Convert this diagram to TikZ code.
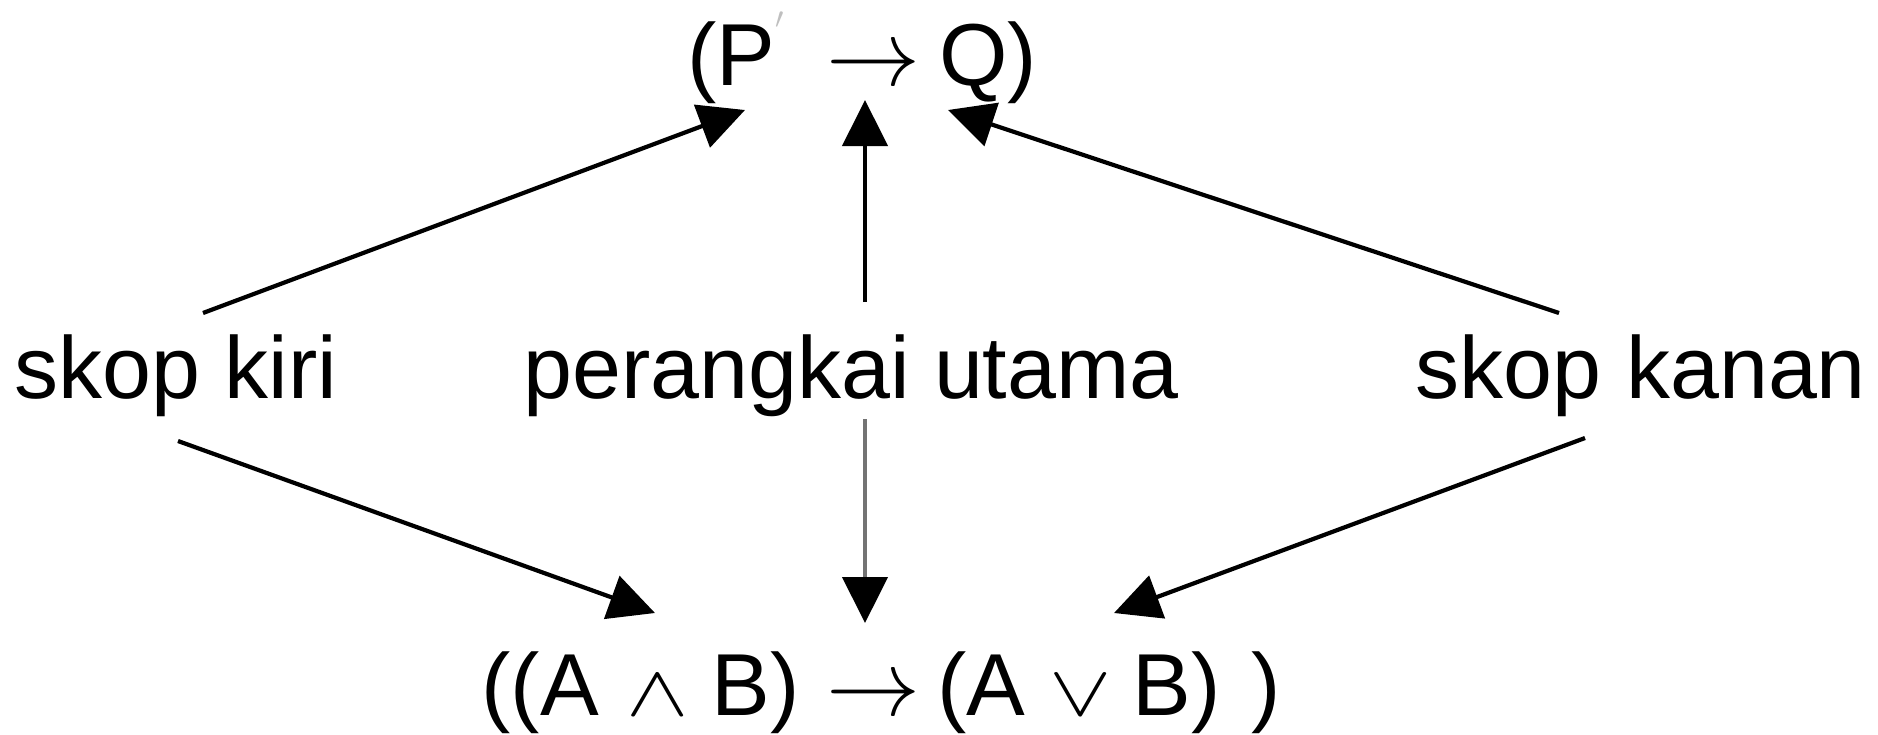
\RequirePackage{fix-cm}
\documentclass[tikz,border=0pt]{standalone}
\usepackage{graphicx}
\usepackage{fontspec}
\setmainfont{Liberation Sans}
\usetikzlibrary{arrows.meta}
\begin{document}
\begin{tikzpicture}[x=1pt,y=-1pt,
  txt/.style={inner sep=0pt,outer sep=0pt,font=\fontsize{88}{88}\selectfont},
  sym/.style={inner sep=0pt,outer sep=0pt,font=\fontsize{94}{94}\selectfont},
  opsym/.style={inner sep=0pt,outer sep=0pt,font=\fontsize{72}{72}\selectfont},
  conn/.style={line width=4.2pt,-{Triangle[length=46pt,width=45pt]}},
  conngrey/.style={line width=4.2pt,draw=black!55,-{Triangle[length=46pt,width=45pt,color=black]}}]
\useasboundingbox[fill=white] (0,0) rectangle (1878,734);
% labels
\node[txt,anchor=base] (kiri) at (176,398) {skop kiri};
\node[txt,anchor=base] (utama) at (851,398) {perangkai utama};
\node[txt,anchor=base] (kanan) at (1641,398) {skop kanan};
% top formula
\node[txt,anchor=base west] (tP) at (687.5,85) {(P};
\node[inner sep=0pt,text=black!25,font=\fontsize{30}{30}\selectfont] (tprime) at (780,20) {$\prime$};
\node[sym,anchor=base] (tarrow) at (873.5,85) {$\rightarrow$};
\node[txt,anchor=base west] (tQ) at (939.5,85) {Q)};
% bottom formula
\node[txt,anchor=base west] (bA) at (481.5,715) {((A};
\node[opsym,anchor=base] (band) at (658,715) {\scalebox{1.3}[1]{$\wedge$}};
\node[txt,anchor=base west] (bB) at (711.6,715) {B)};
\node[sym,anchor=base] (barrow) at (873.5,715) {$\rightarrow$};
\node[txt,anchor=base west] (bA2) at (937.5,715) {(A};
\node[opsym,anchor=base] (bor) at (1081,715) {\scalebox{1.3}[1]{$\vee$}};
\node[txt,anchor=base west] (bB2) at (1132.6,715) {B)};
\node[txt,anchor=base west] (bclose) at (1251,715) {)};
% connector end points
\coordinate (tl1) at (203,313);   \coordinate (tl2) at (745,110);
\coordinate (tm1) at (865,302);   \coordinate (tm2) at (865,100);
\coordinate (tr1) at (1559,313);  \coordinate (tr2) at (948,110);
\coordinate (bl1) at (178,441);   \coordinate (bl2) at (655,613);
\coordinate (bm1) at (865,419);   \coordinate (bm2) at (865,623);
\coordinate (br1) at (1585,438);  \coordinate (br2) at (1114,613);
% connectors
\draw[conn] (tl1) -- (tl2);
\draw[conn] (tm1) -- (tm2);
\draw[conn] (tr1) -- (tr2);
\draw[conn] (bl1) -- (bl2);
\draw[conngrey] (bm1) -- (bm2);
\draw[conn] (br1) -- (br2);
\end{tikzpicture}
\end{document}
